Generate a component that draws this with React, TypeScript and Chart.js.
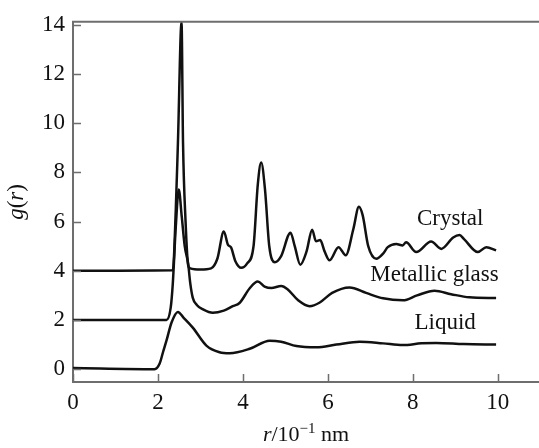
import React, { useEffect, useRef } from "react";
import { Chart, registerables } from "chart.js";

Chart.register(...registerables);

const xTicks = [0, 2, 4, 6, 8, 10];
const yTicks = [0, 2, 4, 6, 8, 10, 12, 14];

const crystalR = [0, 2.35, 2.42, 2.47, 2.555, 2.59, 2.65, 2.71, 2.76, 3.0, 3.25, 3.4, 3.55, 3.65, 3.72, 3.82, 3.96, 4.1, 4.25, 4.35, 4.43, 4.52, 4.62, 4.75, 4.9, 5.12, 5.22, 5.35, 5.5, 5.63, 5.72, 5.82, 5.92, 6.04, 6.25, 6.42, 6.6, 6.73, 6.82, 6.95, 7.14, 7.3, 7.41, 7.61, 7.76, 7.84, 8.08, 8.43, 8.67, 8.95, 9.1, 9.2, 9.53, 9.73, 9.96];
const crystalG = [4.0, 4.02, 6.5, 9.2, 14.1, 9.2, 6.0, 4.24, 4.1, 4.05, 4.1, 4.5, 5.6, 5.05, 4.95, 4.4, 4.12, 4.3, 5.0, 7.5, 8.4, 7.3, 5.0, 4.35, 4.6, 5.55, 5.0, 4.25, 4.8, 5.67, 5.2, 5.25, 4.8, 4.43, 4.96, 4.63, 5.7, 6.6, 6.25, 5.0, 4.49, 4.7, 4.96, 5.09, 5.03, 5.16, 4.76, 5.19, 4.89, 5.35, 5.45, 5.3, 4.76, 4.96, 4.83];

const glassR = [0, 2.2, 2.3, 2.35, 2.42, 2.49, 2.56, 2.63, 2.71, 2.76, 2.82, 2.92, 3.06, 3.29, 3.55, 3.76, 3.92, 4.16, 4.35, 4.51, 4.67, 4.9, 5.05, 5.3, 5.57, 5.8, 6.1, 6.51, 6.9, 7.3, 7.77, 8.1, 8.51, 8.9, 9.33, 9.96];
const glassG = [2.0, 2.0, 2.5, 3.5, 5.8, 7.3, 6.2, 5.0, 4.3, 3.5, 2.9, 2.6, 2.43, 2.29, 2.38, 2.56, 2.69, 3.29, 3.56, 3.36, 3.3, 3.38, 3.25, 2.8, 2.56, 2.7, 3.1, 3.32, 3.1, 2.88, 2.8, 3.0, 3.19, 3.05, 2.92, 2.89];

const liquidR = [0, 1.92, 2.04, 2.12, 2.2, 2.32, 2.47, 2.6, 2.82, 3.14, 3.45, 3.69, 4.16, 4.63, 4.9, 5.26, 5.73, 6.2, 6.75, 7.3, 7.76, 8.2, 8.55, 9.2, 9.96];
const liquidG = [0.05, 0.0, 0.23, 0.7, 1.16, 1.9, 2.33, 2.1, 1.69, 0.96, 0.69, 0.65, 0.83, 1.16, 1.12, 0.94, 0.89, 1.0, 1.12, 1.05, 0.98, 1.05, 1.07, 1.02, 1.0];

const seriesLabels = ["Crystal", "Metallic glass", "Liquid"];
const labelR = [8.88, 8.51, 8.76];
const labelG = [6.1, 3.84, 1.9];

const SERIF = "'Liberation Serif', 'Times New Roman', serif";
const AXIS_COLOR = "#6e6e6e";

const toPts = (xs: number[], ys: number[]) => xs.map((x, i) => ({ x, y: ys[i] }));

const decorPlugin = {
  id: "decor",
  afterDraw(chart: any) {
    const ctx = chart.ctx;
    const { left, right, top, bottom } = chart.chartArea;
    const xs = chart.scales.x;
    const ys = chart.scales.y;
    ctx.save();
    ctx.strokeStyle = AXIS_COLOR;
    ctx.lineWidth = 2;
    ctx.beginPath();
    ctx.moveTo(left - 1, top);
    ctx.lineTo(right, top);
    ctx.stroke();
    ctx.lineWidth = 1.5;
    ctx.beginPath();
    xTicks.forEach((v) => {
      const px = Math.round(xs.getPixelForValue(v)) + 0.5;
      ctx.moveTo(px, bottom);
      ctx.lineTo(px, bottom - 8);
    });
    yTicks.forEach((v) => {
      const py = Math.round(ys.getPixelForValue(v)) + 0.5;
      ctx.moveTo(left, py);
      ctx.lineTo(left + 8, py);
    });
    ctx.stroke();

    ctx.fillStyle = "#111";
    ctx.font = `23px ${SERIF}`;
    ctx.textAlign = "center";
    ctx.textBaseline = "middle";
    seriesLabels.forEach((t, i) => {
      ctx.fillText(t, xs.getPixelForValue(labelR[i]), ys.getPixelForValue(labelG[i]));
    });

    const drawParts = (parts: { t: string; f: string; dy?: number }[], cx: number, cy: number, rot: number) => {
      ctx.save();
      ctx.translate(cx, cy);
      ctx.rotate(rot);
      ctx.textAlign = "left";
      ctx.textBaseline = "alphabetic";
      let total = 0;
      parts.forEach((p) => {
        ctx.font = p.f;
        total += ctx.measureText(p.t).width;
      });
      let x = -total / 2;
      parts.forEach((p) => {
        ctx.font = p.f;
        ctx.fillText(p.t, x, p.dy || 0);
        x += ctx.measureText(p.t).width;
      });
      ctx.restore();
    };
    drawParts(
      [
        { t: "g", f: `italic 23px ${SERIF}` },
        { t: "(", f: `23px ${SERIF}` },
        { t: "r", f: `italic 23px ${SERIF}` },
        { t: ")", f: `23px ${SERIF}` },
      ],
      23,
      (top + bottom) / 2,
      -Math.PI / 2
    );
    drawParts(
      [
        { t: "r", f: `italic 22px ${SERIF}` },
        { t: "/10", f: `22px ${SERIF}` },
        { t: "\u22121", f: `15px ${SERIF}`, dy: -8 },
        { t: " nm", f: `22px ${SERIF}` },
      ],
      (left + right) / 2,
      441,
      0
    );
    ctx.restore();
  },
};

export default function App() {
  const ref = useRef<HTMLCanvasElement | null>(null);
  useEffect(() => {
    if (!ref.current) return;
    const lineStyle = {
      borderColor: "#111",
      borderWidth: 2.5,
      pointRadius: 0,
      fill: false,
      cubicInterpolationMode: "monotone" as const,
    };
    const chart = new Chart(ref.current, {
      type: "line",
      data: {
        datasets: [
          { label: seriesLabels[0], data: toPts(crystalR, crystalG), ...lineStyle },
          { label: seriesLabels[1], data: toPts(glassR, glassG), ...lineStyle },
          { label: seriesLabels[2], data: toPts(liquidR, liquidG), ...lineStyle },
        ],
      },
      options: {
        animation: false,
        responsive: false,
        layout: { padding: { top: 16, right: 0, left: 0, bottom: 0 } },
        plugins: { legend: { display: false }, tooltip: { enabled: false } },
        scales: {
          x: {
            type: "linear",
            min: 0,
            max: 10.97,
            afterBuildTicks: (s: any) => {
              s.ticks = xTicks.map((v) => ({ value: v }));
            },
            afterFit: (s: any) => {
              s.height = 66;
            },
            grid: { display: true, drawOnChartArea: false, drawTicks: false },
            border: { display: true, color: AXIS_COLOR, width: 2 },
            ticks: { color: "#111", font: { family: SERIF, size: 23 }, padding: 7, maxRotation: 0 },
          },
          y: {
            type: "linear",
            min: -0.52,
            max: 14.12,
            afterBuildTicks: (s: any) => {
              s.ticks = yTicks.map((v) => ({ value: v }));
            },
            afterFit: (s: any) => {
              s.width = 73;
            },
            grid: { display: true, drawOnChartArea: false, drawTicks: false },
            border: { display: true, color: AXIS_COLOR, width: 2 },
            ticks: { color: "#111", font: { family: SERIF, size: 23 }, padding: 8 },
          },
        },
      },
      plugins: [decorPlugin],
    });
    return () => chart.destroy();
  }, []);
  return (
    <div style={{ position: "fixed", left: 0, top: 0, width: 539, height: 448, background: "#fff" }}>
      <canvas ref={ref} width={539} height={448} />
    </div>
  );
}
